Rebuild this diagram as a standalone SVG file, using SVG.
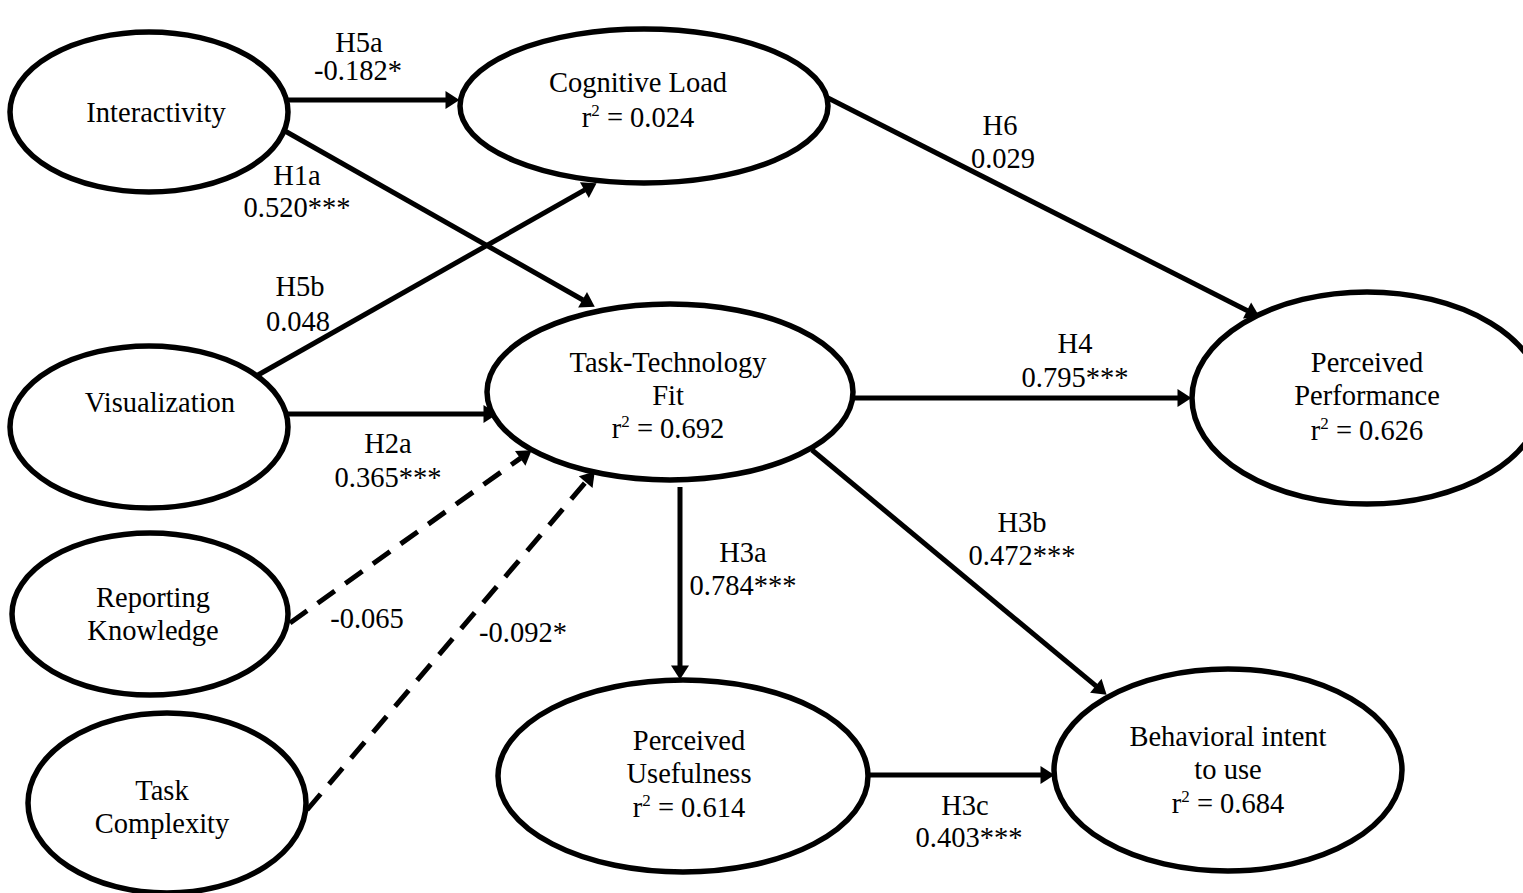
<svg xmlns="http://www.w3.org/2000/svg" width="1523" height="893" viewBox="0 0 1523 893">
<style>
.n{fill:#fff;stroke:#000;stroke-width:5.5}
text{font-family:"Liberation Serif","Times New Roman",serif;font-size:28.5px;fill:#000;text-anchor:middle}
.c{stroke:#000;stroke-width:5;fill:none}
.d{stroke-dasharray:21 13}
.s{font-size:17px}
</style>
<defs>
<marker id="ah" markerUnits="userSpaceOnUse" markerWidth="16" markerHeight="20" viewBox="0 -10 16 20" refX="0.5" refY="0" orient="auto" overflow="visible">
<path d="M0,-9 L14,0 L0,9 z" fill="#000"/>
</marker>
</defs>
<rect width="1523" height="893" fill="#fff"/>
<g id="connectors">
<line class="c" x1="288" y1="100" x2="446" y2="100" marker-end="url(#ah)"/>
<line class="c" x1="285" y1="131" x2="583" y2="300" marker-end="url(#ah)"/>
<line class="c" x1="258" y1="375" x2="584.8" y2="189.9" marker-end="url(#ah)"/>
<line class="c" x1="288" y1="414" x2="484" y2="414" marker-end="url(#ah)"/>
<line class="c d" x1="290" y1="623" x2="520.6" y2="458.1" marker-end="url(#ah)"/>
<line class="c d" x1="307" y1="810" x2="586" y2="481.7" marker-end="url(#ah)"/>
<line class="c" x1="828" y1="98" x2="1247.5" y2="310.7" marker-end="url(#ah)"/>
<line class="c" x1="853" y1="398" x2="1178" y2="398" marker-end="url(#ah)"/>
<line class="c" x1="680" y1="487" x2="680" y2="666" marker-end="url(#ah)"/>
<line class="c" x1="812" y1="450" x2="1096.2" y2="686.1" marker-end="url(#ah)"/>
<line class="c" x1="868" y1="775" x2="1041" y2="775" marker-end="url(#ah)"/>
</g>
<g id="labels">
<text x="359" y="52">H5a</text>
<text x="358" y="80">-0.182*</text>
<text x="297" y="185">H1a</text>
<text x="297" y="217">0.520***</text>
<text x="300" y="296">H5b</text>
<text x="298" y="331">0.048</text>
<text x="388" y="453">H2a</text>
<text x="388" y="487">0.365***</text>
<text x="367" y="628">-0.065</text>
<text x="523" y="642">-0.092*</text>
<text x="1000" y="135">H6</text>
<text x="1003" y="168">0.029</text>
<text x="1075" y="353">H4</text>
<text x="1075" y="387">0.795***</text>
<text x="743" y="562">H3a</text>
<text x="743" y="595">0.784***</text>
<text x="1022" y="532">H3b</text>
<text x="1022" y="565">0.472***</text>
<text x="965" y="815">H3c</text>
<text x="969" y="847">0.403***</text>
</g>
<g id="interactivity">
<ellipse class="n" cx="149" cy="112" rx="139" ry="80"/>
<text x="156" y="122">Interactivity</text>
</g>
<g id="cognitive-load">
<ellipse class="n" cx="644" cy="106" rx="184" ry="77"/>
<text x="638" y="92">Cognitive Load</text>
<text x="638" y="127">r<tspan class="s" dy="-11">2</tspan><tspan dy="11"> = 0.024</tspan></text>
</g>
<g id="visualization">
<ellipse class="n" cx="149" cy="427" rx="139" ry="81"/>
<text x="160" y="412">Visualization</text>
</g>
<g id="task-technology-fit">
<ellipse class="n" cx="670" cy="392" rx="183" ry="88"/>
<text x="668" y="372">Task-Technology</text>
<text x="668" y="405">Fit</text>
<text x="668" y="438">r<tspan class="s" dy="-11">2</tspan><tspan dy="11"> = 0.692</tspan></text>
</g>
<g id="perceived-performance">
<ellipse class="n" cx="1367" cy="398" rx="175" ry="106"/>
<text x="1367" y="372">Perceived</text>
<text x="1367" y="405">Performance</text>
<text x="1367" y="440">r<tspan class="s" dy="-11">2</tspan><tspan dy="11"> = 0.626</tspan></text>
</g>
<g id="reporting-knowledge">
<ellipse class="n" cx="150" cy="614" rx="138" ry="81"/>
<text x="153" y="607">Reporting</text>
<text x="153" y="640">Knowledge</text>
</g>
<g id="task-complexity">
<ellipse class="n" cx="167" cy="803" rx="139" ry="90"/>
<text x="162" y="800">Task</text>
<text x="162" y="833">Complexity</text>
</g>
<g id="perceived-usefulness">
<ellipse class="n" cx="683" cy="776" rx="185" ry="96"/>
<text x="689" y="750">Perceived</text>
<text x="689" y="783">Usefulness</text>
<text x="689" y="817">r<tspan class="s" dy="-11">2</tspan><tspan dy="11"> = 0.614</tspan></text>
</g>
<g id="behavioral-intent">
<ellipse class="n" cx="1228" cy="770" rx="174" ry="101"/>
<text x="1228" y="746">Behavioral intent</text>
<text x="1228" y="779">to use</text>
<text x="1228" y="813">r<tspan class="s" dy="-11">2</tspan><tspan dy="11"> = 0.684</tspan></text>
</g>
</svg>
